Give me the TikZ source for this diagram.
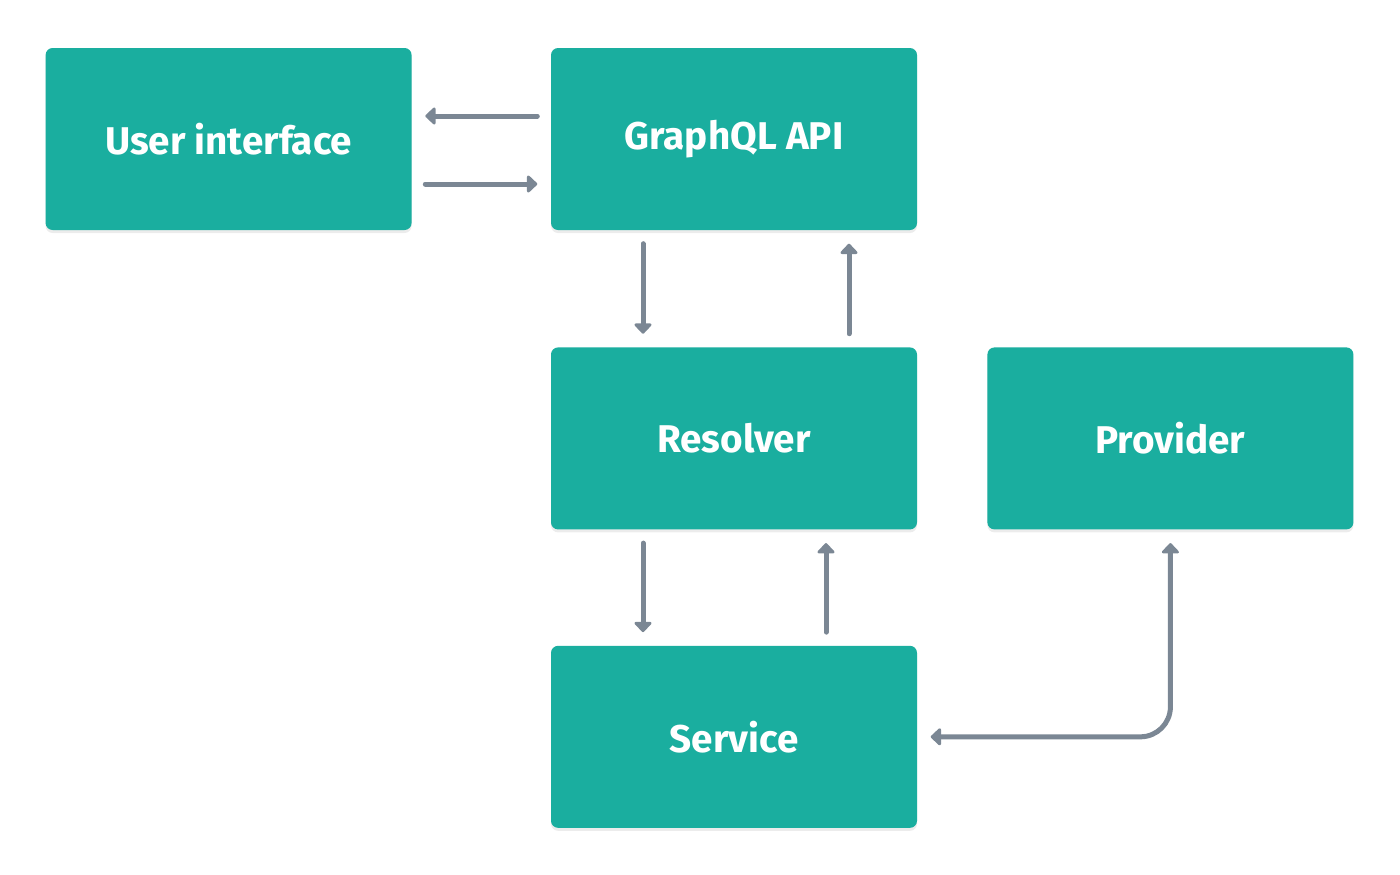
\documentclass[tikz,border=0pt]{standalone}
\usepackage{fontspec}
\setmainfont{Fira Sans}
\usetikzlibrary{arrows.meta, positioning, shadows}
\definecolor{teal}{HTML}{1AAE9F}
\definecolor{arrgray}{HTML}{7B8794}
\tikzset{
	box/.style={rectangle, rounded corners=2pt, fill=teal, text=white,
		minimum width=3.66cm, minimum height=1.82cm, inner sep=0pt,
		font=\fontsize{11}{13}\selectfont\bfseries,
		drop shadow={shadow xshift=0pt, shadow yshift=-0.03cm, opacity=0.15}},
	arr/.style={draw=arrgray, line width=0.05cm, line cap=round,
		-{Triangle[width=0.2cm, length=0.11cm, round]},
		shorten >=0.13cm, shorten <=0.13cm}
}
\begin{document}
\begin{tikzpicture}
	\useasboundingbox (0,0) rectangle (14,-8.74);
	\node[box] (GQL) at (7.34,-1.39) {GraphQL API};
	\node[box, left=1.38cm of GQL] (UI) {User interface};
	\node[box, below=1.16cm of GQL] (RES) {Resolver};
	\node[box, right=0.69cm of RES] (PROV) {Provider};
	\node[box, below=1.15cm of RES] (SVC) {Service};
	\draw[arr] ([yshift=0.23cm]GQL.west) -- ([yshift=0.23cm]UI.east);
	\draw[arr] ([yshift=-0.45cm]UI.east) -- ([yshift=-0.45cm]GQL.west);
	\draw[arr] ([xshift=-0.91cm]GQL.south) -- ([xshift=-0.91cm]RES.north);
	\draw[arr] ([xshift=1.15cm]RES.north) -- ([xshift=1.15cm]GQL.south);
	\draw[arr] ([xshift=-0.91cm]RES.south) -- ([xshift=-0.91cm]SVC.north);
	\draw[arr] ([xshift=0.92cm]SVC.north) -- ([xshift=0.92cm]RES.south);
	\draw[arr, {Triangle[width=0.2cm, length=0.11cm, round]}-{Triangle[width=0.2cm, length=0.11cm, round]}, rounded corners=0.3cm]
		(PROV.south) |- (SVC.east);
\end{tikzpicture}
\end{document}
